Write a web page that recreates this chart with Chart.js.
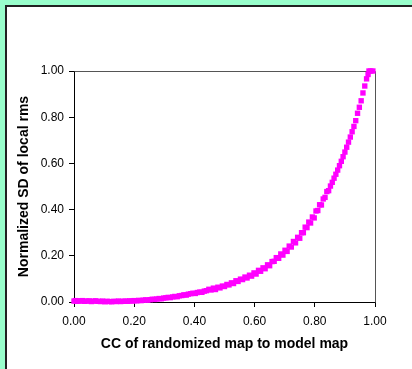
<!DOCTYPE html>
<html>
<head>
<meta charset="utf-8">
<script src="https://cdn.jsdelivr.net/npm/chart.js@4/dist/chart.umd.min.js"></script>
<style>
  html, body { margin: 0; padding: 0; background: #99ffcc; }
  #wrap { position: absolute; left: 0; top: 0; width: 412px; height: 369px; }
</style>
</head>
<body>
<div id="wrap"><canvas id="c" width="412" height="369"></canvas></div>
<script>
const ccValues = [
  0.000,0.005,0.010,0.015,0.020,0.028,0.035,0.042,0.050,0.058,0.065,0.072,0.080,0.088,0.095,
  0.103,0.110,0.118,0.125,0.133,0.140,0.148,0.155,0.163,0.170,0.178,0.185,0.193,0.200,0.208,
  0.215,0.223,0.230,0.238,0.245,0.253,0.260,0.268,0.275,0.283,0.290,0.298,0.305,0.313,0.320,
  0.328,0.335,0.343,0.350,0.358,0.365,0.373,0.380,0.388,0.395,0.403,0.410,0.418,0.425,0.433,
  0.440,0.448,0.455,0.463,0.470,0.478,0.485,0.493,0.500,0.508,0.515,0.523,0.530,0.538,0.545,
  0.553,0.560,0.568,0.575,0.583,0.590,0.598,0.605,0.613,0.620,0.628,0.635,0.643,0.650,0.658,
  0.665,0.672,0.680,0.687,0.694,0.701,0.708,0.715,0.722,0.729,0.736,0.743,0.750,0.756,0.762,
  0.768,0.774,0.780,0.786,0.792,0.798,0.804,0.810,0.816,0.822,0.828,0.834,0.840,0.846,0.852,
  0.858,0.864,0.870,0.876,0.882,0.888,0.894,0.900,0.906,0.912,0.918,0.924,0.930,0.936,0.942,
  0.948,0.954,0.960,0.966,0.972,0.977,0.980,0.986,0.993
];
const sdValues = [
  0.004,0.006,0.003,0.005,0.004,0.006,0.003,0.004,0.005,0.002,0.004,0.005,0.003,0.002,0.004,
  0.001,0.003,0.002,0.001,0.003,0.002,0.004,0.002,0.003,0.004,0.003,0.005,0.004,0.006,0.005,
  0.007,0.006,0.008,0.009,0.008,0.010,0.012,0.011,0.013,0.015,0.014,0.017,0.018,0.020,0.019,
  0.022,0.024,0.023,0.027,0.028,0.031,0.030,0.034,0.036,0.038,0.037,0.041,0.043,0.042,0.047,
  0.049,0.055,0.052,0.060,0.054,0.064,0.061,0.069,0.067,0.076,0.074,0.083,0.080,0.092,0.089,
  0.099,0.097,0.108,0.104,0.116,0.112,0.126,0.121,0.137,0.133,0.148,0.144,0.161,0.157,0.175,
  0.176,0.192,0.189,0.208,0.203,0.224,0.219,0.242,0.238,0.262,0.256,0.280,0.276,0.300,0.300,
  0.324,0.322,0.346,0.342,0.368,0.364,0.394,0.396,0.421,0.420,0.446,0.453,0.478,0.482,0.502,
  0.518,0.536,0.553,0.571,0.590,0.609,0.629,0.649,0.670,0.692,0.714,0.737,0.760,0.785,0.817,
  0.843,0.871,0.905,0.935,0.966,0.985,1.000,1.000,1.000
];
const xTickLabels = ['0.00','0.20','0.40','0.60','0.80','1.00'];
const yTickLabels = ['0.00','0.20','0.40','0.60','0.80','1.00'];
const xTitle = 'CC of randomized map to model map';
const yTitle = 'Normalized SD of local rms';

const points = ccValues.map((x, i) => ({ x: x, y: sdValues[i] }));

const frame = {
  id: 'frame',
  beforeDraw(chart) {
    const ctx = chart.ctx;
    ctx.save();
    ctx.fillStyle = '#99ffcc';
    ctx.fillRect(0, 0, chart.width, chart.height);
    ctx.fillStyle = '#222222';
    ctx.fillRect(5, 5, chart.width, chart.height);
    ctx.fillStyle = '#ffffff';
    ctx.fillRect(7, 7, chart.width, chart.height);
    ctx.restore();
  },
  beforeDatasetsDraw(chart) {
    const a = chart.chartArea, ctx = chart.ctx;
    ctx.save();
    ctx.strokeStyle = '#555555';
    ctx.lineWidth = 1;
    ctx.beginPath();
    ctx.moveTo(Math.round(a.left) + 0.5, Math.round(a.top) + 0.5);
    ctx.lineTo(Math.round(a.right) + 0.5, Math.round(a.top) + 0.5);
    ctx.lineTo(Math.round(a.right) + 0.5, Math.round(a.bottom) + 0.5);
    ctx.stroke();
    ctx.restore();
  }
};

const tickFont = { family: '"Liberation Sans", Arial, sans-serif', size: 12 };
const titleFont = { family: '"Liberation Sans", Arial, sans-serif', size: 14, weight: 'bold' };

new Chart(document.getElementById('c'), {
  type: 'scatter',
  data: {
    datasets: [{
      data: points,
      pointStyle: 'rect',
      pointRadius: 3.8,
      pointHoverRadius: 3.8,
      pointBackgroundColor: '#ff00ff',
      pointBorderColor: '#ff00ff',
      pointBorderWidth: 0,
      clip: false
    }]
  },
  options: {
    responsive: false,
    animation: false,
    events: [],
    layout: { padding: { left: 0, right: 37, top: 71, bottom: 16 } },
    plugins: { legend: { display: false }, tooltip: { enabled: false } },
    scales: {
      x: {
        type: 'linear', min: 0, max: 1,
        afterFit(s) { s.height = 51; },
        afterBuildTicks(s) { s.ticks = xTickLabels.map(t => ({ value: parseFloat(t) })); },
        ticks: {
          color: '#000', font: tickFont, padding: 7, maxRotation: 0,
          callback: (v) => xTickLabels.find(t => Math.abs(parseFloat(t) - v) < 1e-6)
        },
        grid: { drawOnChartArea: false, drawTicks: true, tickLength: 5, color: '#000' },
        border: { display: true, color: '#000', width: 1 },
        title: { display: true, text: xTitle, color: '#000', font: titleFont, padding: { top: 0, bottom: 0 } }
      },
      y: {
        type: 'linear', min: 0, max: 1,
        afterFit(s) { s.width = 74; },
        afterBuildTicks(s) { s.ticks = yTickLabels.map(t => ({ value: parseFloat(t) })); },
        ticks: {
          color: '#000', font: tickFont, padding: 5,
          callback: (v) => yTickLabels.find(t => Math.abs(parseFloat(t) - v) < 1e-6)
        },
        grid: { drawOnChartArea: false, drawTicks: true, tickLength: 5, color: '#000' },
        border: { display: true, color: '#000', width: 1 },
        title: { display: true, text: yTitle, color: '#000', font: titleFont, padding: { top: 16, bottom: 0 } }
      }
    }
  },
  plugins: [frame]
});
</script>
</body>
</html>
